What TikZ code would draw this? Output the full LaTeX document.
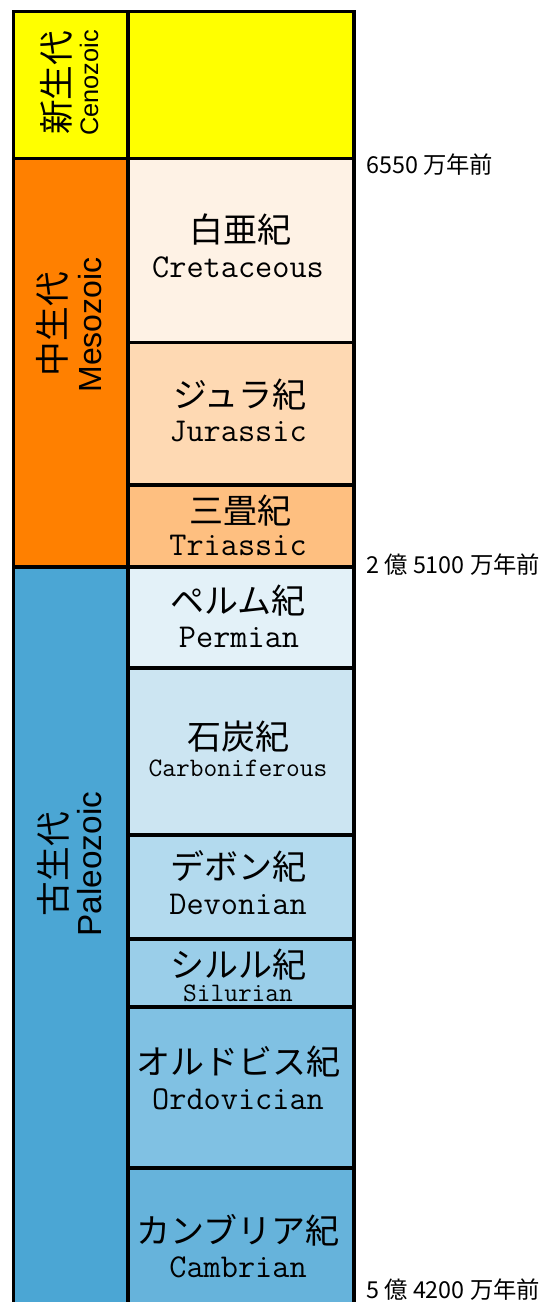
\documentclass[tikz,border=0pt]{standalone}
\usepackage{fontspec}
\setsansfont{Liberation Sans}
\newfontfamily\jp{Noto Sans CJK JP}
\definecolor{ceno}{HTML}{FFFF00}
\definecolor{meso}{HTML}{FF8000}
\definecolor{paleo}{HTML}{4BA6D4}
\definecolor{cre}{HTML}{FEF2E5}
\definecolor{jur}{HTML}{FED9B3}
\definecolor{tri}{HTML}{FEBF80}
\definecolor{per}{HTML}{E3F1F8}
\definecolor{carb}{HTML}{CCE5F2}
\definecolor{dev}{HTML}{B3DAEE}
\definecolor{sil}{HTML}{9ACEE9}
\definecolor{ord}{HTML}{80C1E3}
\definecolor{cam}{HTML}{66B3DB}
\tikzset{
  border/.style={draw=black, line width=2.6pt},
  jpname/.style={font=\jp\fontsize{25.5}{28}\selectfont, inner sep=0pt},
  laname/.style={font=\ttfamily\fontsize{25}{28}\selectfont, inner sep=0pt},
  lasmall/.style={font=\ttfamily\fontsize{20}{22}\selectfont, inner sep=0pt},
  erajp/.style={font=\jp\fontsize{26}{28}\selectfont, rotate=90, inner sep=0pt},
  erala/.style={font=\sffamily\fontsize{24}{26}\selectfont, rotate=90, inner sep=0pt},
  agelbl/.style={font=\jp\fontsize{17.5}{19}\selectfont, anchor=west, inner sep=0pt}
}
\begin{document}
\begin{tikzpicture}[x=0.75pt, y=-0.75pt]
\useasboundingbox (0,0) rectangle (556,1302);
\clip (0,0) rectangle (556,1302);
% fills
\fill[ceno] (13.5,11.5) rectangle (354,158.5);
\fill[meso] (13.5,158.5) rectangle (128,567);
\fill[paleo] (13.5,567) rectangle (128,1320);
\fill[cre] (128,158.5) rectangle (354,342.5);
\fill[jur] (128,342.5) rectangle (354,485);
\fill[tri] (128,485) rectangle (354,567);
\fill[per] (128,567) rectangle (354,668);
\fill[carb] (128,668) rectangle (354,835);
\fill[dev] (128,835) rectangle (354,939);
\fill[sil] (128,939) rectangle (354,1007);
\fill[ord] (128,1007) rectangle (354,1168);
\fill[cam] (128,1168) rectangle (354,1320);
% borders
\draw[border] (13.5,11.5) rectangle (354,1320);
\draw[border] (13.5,158.5) -- (354,158.5);
\draw[border] (13.5,567) -- (354,567);
\draw[border] (128,11.5) -- (128,1320);
\foreach \yy in {342.5,485,668,835,939,1007,1168}
  \draw[border] (128,\yy) -- (354,\yy);
% era labels
\node[erajp] (cenojp) at (56,83) {新生代};
\node[erala, font=\sffamily\fontsize{19}{20}\selectfont] (cenola) at (89,83) {Cenozoic};
\node[erajp] (mesojp) at (52,324) {中生代};
\node[erala] (mesola) at (90,325) {Mesozoic};
\node[erajp] (paleojp) at (53,864) {古生代};
\node[erala, font=\sffamily\fontsize{25}{26}\selectfont] (paleola) at (90,864) {Paleozoic};
% period labels
\node[jpname] (crejp) at (240,230) {白亜紀};
\node[laname] (crela) at (238,267) {Cretaceous};
\node[jpname] (jurjp) at (240,395) {ジュラ紀};
\node[laname] (jurla) at (238,432) {Jurassic};
\node[jpname] (trijp) at (240,511) {三畳紀};
\node[laname] (trila) at (238,545) {Triassic};
\node[jpname] (perjp) at (238,601) {ペルム紀};
\node[laname] (perla) at (239,637) {Permian};
\node[jpname] (carbjp) at (238,737) {石炭紀};
\node[lasmall] (carbla) at (238,768) {Carboniferous};
\node[jpname] (devjp) at (238,866) {デボン紀};
\node[laname] (devla) at (238,904) {Devonian};
\node[jpname] (siljp) at (238,965) {シルル紀};
\node[lasmall] (silla) at (238,993) {Silurian};
\node[jpname] (ordjp) at (238,1062) {オルドビス紀};
\node[laname] (ordla) at (238,1099) {Ordovician};
\node[jpname] (camjp) at (238,1230) {カンブリア紀};
\node[laname] (camla) at (238,1267) {Cambrian};
% ages
\node[agelbl] (age1) at (366,165) {6550 万年前};
\node[agelbl] (age2) at (366,565) {2 億 5100 万年前};
\node[agelbl] (age3) at (366,1290) {5 億 4200 万年前};
\end{tikzpicture}
\end{document}
